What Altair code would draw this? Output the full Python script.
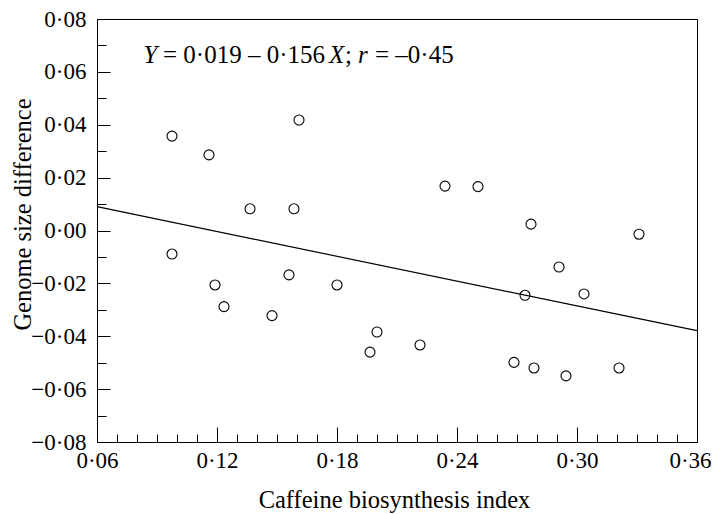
import altair as alt
import pandas as pd

# --- data ---
caffeine_index = [0.0975, 0.0975, 0.116, 0.119, 0.1235, 0.1365, 0.1475, 0.156, 0.1585, 0.161,
                  0.18, 0.1965, 0.2, 0.2215, 0.234, 0.2505, 0.2685, 0.274, 0.277, 0.2785,
                  0.291, 0.2945, 0.3035, 0.321, 0.331]
genome_diff = [0.0357, -0.0089, 0.0286, -0.0206, -0.0288, 0.0082, -0.0322, -0.0168, 0.0082, 0.0418,
               -0.0206, -0.0460, -0.0384, -0.0433, 0.0168, 0.0166, -0.0499, -0.0245, 0.0024, -0.0520,
               -0.0138, -0.0550, -0.0240, -0.0520, -0.0014]

fit_x = [0.06, 0.36]
fit_y = [0.0090, -0.0379]

x_major = [0.06, 0.12, 0.18, 0.24, 0.30, 0.36]
x_minor = [0.06, 0.07, 0.08, 0.09, 0.10, 0.11, 0.12, 0.13, 0.14, 0.15, 0.16, 0.17, 0.18, 0.19,
           0.20, 0.21, 0.22, 0.23, 0.24, 0.25, 0.26, 0.27, 0.28, 0.29, 0.30, 0.31, 0.32, 0.33,
           0.34, 0.35, 0.36]
y_major = [-0.08, -0.06, -0.04, -0.02, 0.0, 0.02, 0.04, 0.06, 0.08]
y_minor = [-0.08, -0.07, -0.06, -0.05, -0.04, -0.03, -0.02, -0.01, 0.0, 0.01, 0.02, 0.03,
           0.04, 0.05, 0.06, 0.07, 0.08]

eq_italic_text = ["Y", "X", "r"]
eq_italic_x = [0.0832, 0.1760, 0.1905]
eq_roman_text = ["= 0·019 – 0·156", ";", "= –0·45"]
eq_roman_x = [0.0930, 0.1840, 0.1990]
eq_y = 0.0635

FONT = "Liberation Serif"
W, H = 600, 423

pts = pd.DataFrame({"x": caffeine_index, "y": genome_diff})
fit = pd.DataFrame({"x": fit_x, "y": fit_y})
eq_i = pd.DataFrame({"x": eq_italic_x, "y": [eq_y] * 3, "t": eq_italic_text})
eq_r = pd.DataFrame({"x": eq_roman_x, "y": [eq_y] * 3, "t": eq_roman_text})

xs = alt.Scale(domain=[0.06, 0.36], nice=False, zero=False)
ys = alt.Scale(domain=[-0.08, 0.08], nice=False, zero=False)

label_expr = "replace(format(datum.value, '.2f'), '.', '·')"

main_x_axis = alt.Axis(
    orient="bottom", values=x_major, labelExpr=label_expr, ticks=False, grid=False,
    domain=True, domainColor="black", domainWidth=1, labelFlush=False,
    labelOffset={"condition": {"test": "datum.value > 0.355", "value": -7}, "value": 0},
    labelFont=FONT, labelFontSize=23, labelColor="black", labelPadding=7,
    titleFont=FONT, titleFontSize=24.5, titleFontWeight="normal", titleColor="black",
    titleX=297, titleY=65, titleBaseline="alphabetic", titleAlign="center",
)
main_y_axis = alt.Axis(
    orient="left", values=y_major, labelExpr=label_expr, ticks=False, grid=False,
    domain=True, domainColor="black", domainWidth=1, labelFlush=False,
    labelFont=FONT, labelFontSize=23, labelColor="black", labelPadding=11,
    titleFont=FONT, titleFontSize=24.5, titleFontWeight="normal", titleColor="black",
    titleX=-67, titleY=195, titleAngle=-90, titleBaseline="alphabetic", titleAlign="center",
)
tick_x_axis = alt.Axis(
    orient="top", offset=-H, values=x_minor, labels=False, domain=False, grid=False,
    ticks=True, tickColor="black", tickWidth=1,
    tickSize={"condition": {"test": "round(datum.value*100) % 6 == 0", "value": 15}, "value": 8},
)
tick_y_axis = alt.Axis(
    orient="right", offset=-W, values=y_minor, labels=False, domain=False, grid=False,
    ticks=True, tickColor="black", tickWidth=1,
    tickSize={"condition": {"test": "round(datum.value*100) % 2 == 0", "value": 13}, "value": 9},
)

points = alt.Chart(pts).mark_point(
    shape="circle", filled=False, color="black", size=100, strokeWidth=1.1, opacity=1
).encode(
    x=alt.X("x:Q", scale=xs, axis=main_x_axis, title="Caffeine biosynthesis index"),
    y=alt.Y("y:Q", scale=ys, axis=main_y_axis, title="Genome size difference"),
)

line = alt.Chart(fit).mark_line(color="black", strokeWidth=1.2).encode(
    x=alt.X("x:Q", scale=xs, axis=tick_x_axis, title=None),
    y=alt.Y("y:Q", scale=ys, axis=tick_y_axis, title=None),
)

eq_italic = alt.Chart(eq_i).mark_text(
    font=FONT, fontSize=25, fontStyle="italic", align="left", baseline="alphabetic", color="black"
).encode(
    x=alt.X("x:Q", scale=xs, axis=None),
    y=alt.Y("y:Q", scale=ys, axis=None),
    text="t:N",
)
eq_roman = alt.Chart(eq_r).mark_text(
    font=FONT, fontSize=25, align="left", baseline="alphabetic", color="black"
).encode(
    x=alt.X("x:Q", scale=xs, axis=None),
    y=alt.Y("y:Q", scale=ys, axis=None),
    text="t:N",
)

chart = alt.layer(points, line, eq_italic, eq_roman).resolve_axis(
    x="independent", y="independent"
).properties(
    width=W, height=H,
    autosize=alt.AutoSizeParams(type="none"),
    padding={"left": 89, "top": 11, "right": 15, "bottom": 72},
).configure(font=FONT).configure_view(stroke="black", strokeWidth=1)

chart.save("out.html", embed_options={"renderer": "svg", "actions": False})
